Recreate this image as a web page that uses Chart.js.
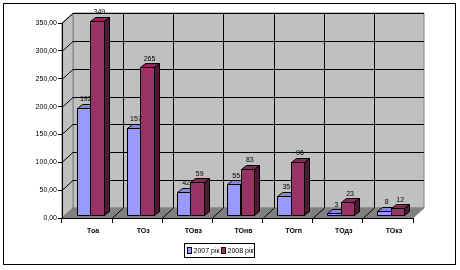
<!DOCTYPE html>
<html>
<head>
<meta charset="utf-8">
<script src="https://cdn.jsdelivr.net/npm/chart.js@4/dist/chart.umd.min.js"></script>
<style>
  body { margin: 0; background: #fff; }
  canvas { display: block; }
</style>
</head>
<body>
<canvas id="chart" width="460" height="270"></canvas>
<script>
// дані
const categories = ['Тоа', 'ТОз', 'ТОвз', 'ТОнв', 'ТОгп', 'ТОдз', 'ТОкз'];
const values2007 = [192, 157, 42, 55, 35, 3, 8];
const values2008 = [349, 265, 59, 83, 96, 23, 12];
const seriesNames = ['2007 рік', '2008 рік'];
const yTicks = [0, 50, 100, 150, 200, 250, 300, 350];

const FONT = 'Liberation Sans, Arial, sans-serif';
const WALL = { dx: 11, dy: -10 };   // глибина стін
const BAR = { dx: 5, dy: -4, sx: 3, sy: -3 }; // глибина стовпців та зсув
const colors = [
    { front: '#9999FF', top: '#8585e0', side: '#6a6ab3' },
    { front: '#993366', top: '#85295a', side: '#4d1a33' }
];

function face(ctx, pts, fill) {
    ctx.beginPath();
    ctx.moveTo(pts[0][0], pts[0][1]);
    for (let i = 1; i < pts.length; i++) ctx.lineTo(pts[i][0], pts[i][1]);
    ctx.closePath();
    ctx.fillStyle = fill;
    ctx.fill();
    ctx.stroke();
}

// Стіни, підлога, сітка
const wallsPlugin = {
    id: 'walls',
    beforeDraw(chart) {
        const ctx = chart.ctx;
        const a = chart.chartArea;
        const y = chart.scales.y;
        const x = chart.scales.x;
        ctx.save();
        ctx.fillStyle = '#fff';
        ctx.fillRect(0, 0, chart.width, chart.height);
        ctx.strokeStyle = '#000';
        ctx.lineWidth = 1;
        ctx.strokeRect(3.5, 3.5, 452, 261);

        ctx.strokeStyle = '#808080';
        // задня стіна
        face(ctx, [[a.left + WALL.dx, a.top + WALL.dy], [a.right + WALL.dx, a.top + WALL.dy],
                   [a.right + WALL.dx, a.bottom + WALL.dy], [a.left + WALL.dx, a.bottom + WALL.dy]], '#c0c0c0');
        // ліва стіна
        face(ctx, [[a.left, a.top], [a.left + WALL.dx, a.top + WALL.dy],
                   [a.left + WALL.dx, a.bottom + WALL.dy], [a.left, a.bottom]], '#c0c0c0');
        // підлога
        face(ctx, [[a.left, a.bottom], [a.left + WALL.dx, a.bottom + WALL.dy],
                   [a.right + WALL.dx, a.bottom + WALL.dy], [a.right, a.bottom]], '#808080');

        ctx.strokeStyle = '#000';
        ctx.beginPath();
        yTicks.forEach(v => {
            const py = Math.round(y.getPixelForValue(v)) + 0.5;
            if (v > 0) {
                ctx.moveTo(a.left, py);
                ctx.lineTo(a.left + WALL.dx, py + WALL.dy);
                ctx.lineTo(a.right + WALL.dx, py + WALL.dy);
            }
        });
        const step = (a.right - a.left) / categories.length;
        for (let i = 1; i < categories.length; i++) {
            const px = Math.round(a.left + step * i) + 0.5;
            ctx.moveTo(px, a.bottom);
            ctx.lineTo(px + WALL.dx, a.bottom + WALL.dy);
            ctx.lineTo(px + WALL.dx, a.top + WALL.dy);
        }
        ctx.stroke();
        ctx.restore();
    }
};

// 3D стовпці та підписи
const barsPlugin = {
    id: 'bars3d',
    beforeDatasetsDraw(chart) {
        const ctx = chart.ctx;
        ctx.save();
        ctx.translate(BAR.sx, BAR.sy);
        ctx.strokeStyle = '#000';
        ctx.lineWidth = 1;
        const metas = [chart.getDatasetMeta(0), chart.getDatasetMeta(1)];
        for (let i = 0; i < categories.length; i++) {
            metas.forEach((meta, d) => {
                const el = meta.data[i];
                const l = Math.round(el.x - el.width / 2) + 0.5;
                const r = Math.round(el.x + el.width / 2) + 0.5;
                const t = Math.round(el.y) + 0.5;
                const b = Math.round(el.base) + 0.5;
                const c = colors[d];
                face(ctx, [[r, t], [r + BAR.dx, t + BAR.dy], [r + BAR.dx, b + BAR.dy], [r, b]], c.side);
                face(ctx, [[l, t], [l + BAR.dx, t + BAR.dy], [r + BAR.dx, t + BAR.dy], [r, t]], c.top);
                face(ctx, [[l, t], [r, t], [r, b], [l, b]], c.front);
            });
        }
        ctx.fillStyle = '#000';
        ctx.font = '7px ' + FONT;
        ctx.textAlign = 'center';
        ctx.textBaseline = 'bottom';
        metas.forEach((meta, d) => {
            const data = d === 0 ? values2007 : values2008;
            meta.data.forEach((el, i) => {
                ctx.fillText(String(data[i]), el.x + BAR.dx / 2, el.y + BAR.dy - 1);
            });
        });
        ctx.restore();
        return false;
    },
    afterDraw(chart) {
        // легенда
        const ctx = chart.ctx;
        ctx.save();
        ctx.fillStyle = '#fff';
        ctx.fillRect(184.5, 243.5, 70, 14);
        ctx.strokeStyle = '#000';
        ctx.lineWidth = 1;
        ctx.strokeRect(184.5, 243.5, 70, 14);
        ctx.font = '7px ' + FONT;
        ctx.textBaseline = 'middle';
        ctx.textAlign = 'left';
        const xs = [187.5, 221.5];
        seriesNames.forEach((name, d) => {
            ctx.fillStyle = colors[d].front;
            ctx.fillRect(xs[d], 247.5, 4, 6);
            ctx.strokeRect(xs[d], 247.5, 4, 6);
            ctx.fillStyle = '#000';
            ctx.fillText(name, xs[d] + 6, 251);
        });
        ctx.restore();
    }
};

new Chart(document.getElementById('chart').getContext('2d'), {
    type: 'bar',
    data: {
        labels: categories,
        datasets: [
            { label: seriesNames[0], data: values2007, backgroundColor: colors[0].front },
            { label: seriesNames[1], data: values2008, backgroundColor: colors[1].front }
        ]
    },
    options: {
        responsive: false,
        animation: false,
        events: [],
        categoryPercentage: 0.54,
        barPercentage: 1,
        layout: { padding: { left: 4, top: 23, right: 47, bottom: 0 } },
        plugins: { legend: { display: false }, tooltip: { enabled: false } },
        scales: {
            x: {
                afterFit(scale) { scale.height = 52; },
                grid: { drawOnChartArea: false, tickLength: 5, color: '#000' },
                border: { color: '#000' },
                ticks: { color: '#000', padding: 4, labelOffset: 6, maxRotation: 0,
                         font: { family: FONT, size: 7, weight: 'bold' } }
            },
            y: {
                min: 0, max: 350,
                afterFit(scale) { scale.width = 58; },
                afterBuildTicks(scale) { scale.ticks = yTicks.map(v => ({ value: v })); },
                grid: { drawOnChartArea: false, tickLength: 4, color: '#000' },
                border: { color: '#000' },
                ticks: { color: '#000', padding: 1,
                         font: { family: FONT, size: 7 },
                         callback: v => v.toFixed(2).replace('.', ',') }
            }
        }
    },
    plugins: [wallsPlugin, barsPlugin]
});
</script>
</body>
</html>
